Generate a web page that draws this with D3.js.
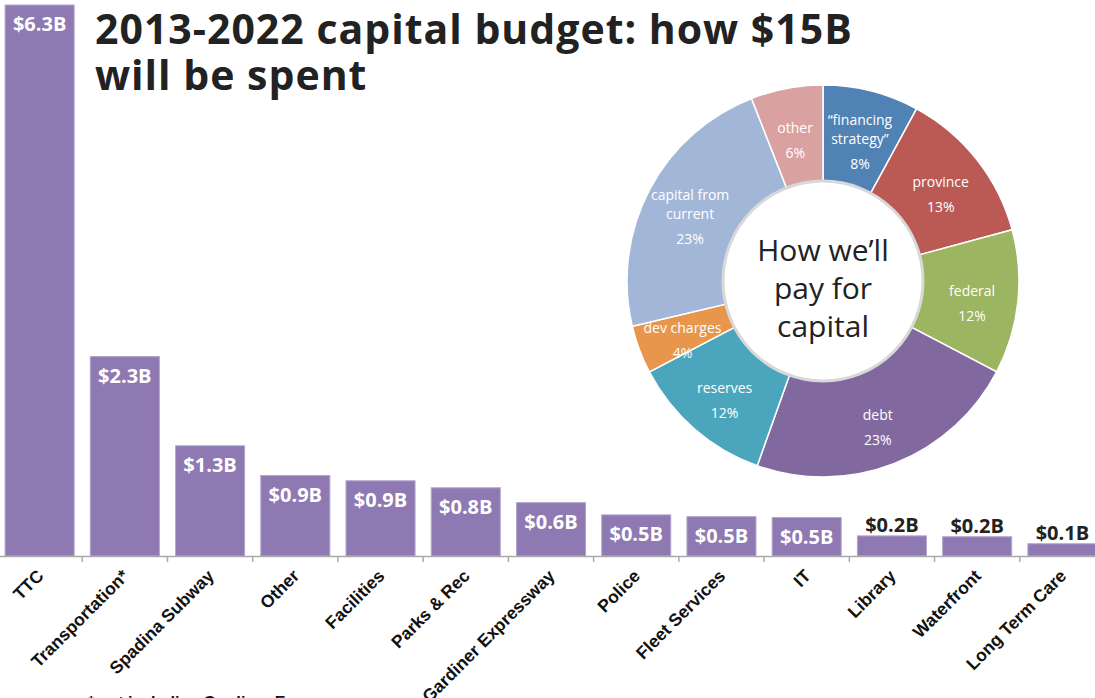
<!DOCTYPE html>
<html>
<head>
<meta charset="utf-8">
<script src="https://cdn.jsdelivr.net/npm/d3@7"></script>
<style>
  body { margin: 0; background: #fff; }
  svg { font-family: "Open Sans", "Noto Sans", sans-serif; }
</style>
</head>
<body>
<div id="chart"></div>
<script>
// Spending by program (billions)
const programs = ["TTC", "Transportation*", "Spadina Subway", "Other", "Facilities", "Parks & Rec",
  "Gardiner Expressway", "Police", "Fleet Services", "IT", "Library", "Waterfront", "Long Term Care"];
const spending = [6.3, 2.28, 1.26, 0.92, 0.86, 0.78, 0.61, 0.47, 0.45, 0.44, 0.23, 0.22, 0.14];
const spendingLabels = ["$6.3B", "$2.3B", "$1.3B", "$0.9B", "$0.9B", "$0.8B", "$0.6B",
  "$0.5B", "$0.5B", "$0.5B", "$0.2B", "$0.2B", "$0.1B"];

// Funding sources (percent), clockwise from 12 o'clock
const sources = [["“financing", "strategy”"], ["province"], ["federal"], ["debt"],
  ["reserves"], ["dev charges"], ["capital from", "current"], ["other"]];
const shares = [8, 13, 12, 23, 12, 4, 23, 6];
const sourceColors = ["#5182b5", "#bb5a54", "#9bb560", "#8169a0", "#4ba6bd", "#e8964c", "#a2b7d8", "#d9a2a0"];

const titleLines = ["2013-2022 capital budget: how $15B", "will be spent"];
const centerLines = ["How we’ll", "pay for", "capital"];

const width = 1095, height = 698;
const svg = d3.select("#chart").append("svg")
    .attr("width", width)
    .attr("height", height);

// ---- bar chart ----
const baseY = 556;
const x = d3.scaleBand()
    .domain(programs)
    .range([-3, 1105])
    .paddingInner(0.19)
    .paddingOuter(0.095);

const y = d3.scaleLinear()
    .domain([0, 6.3])
    .range([baseY, 5]);

const data = programs.map((p, i) => ({ name: p, value: spending[i], label: spendingLabels[i] }));

svg.append("g")
  .selectAll("rect")
  .data(data)
  .join("rect")
    .attr("x", d => x(d.name))
    .attr("y", d => y(d.value))
    .attr("width", x.bandwidth())
    .attr("height", d => baseY - y(d.value))
    .attr("fill", "#8f79b2")
    .attr("stroke", "#b3a4cc")
    .attr("stroke-width", 1);

// value labels: inside for tall bars, above for short ones
svg.append("g")
  .selectAll("text")
  .data(data)
  .join("text")
    .attr("x", d => x(d.name) + x.bandwidth() / 2)
    .attr("y", d => d.value > 0.3 ? y(d.value) + 26 : y(d.value) - 4)
    .attr("text-anchor", "middle")
    .attr("font-size", 20)
    .attr("font-weight", 700)
    .attr("fill", d => d.value > 0.3 ? "#fff" : "#222")
    .text(d => d.label);

// axis line with ticks between bars
const step = x.step();
const axis = svg.append("g");
axis.append("line")
    .attr("x1", 0).attr("x2", width)
    .attr("y1", baseY + 0.5).attr("y2", baseY + 0.5)
    .attr("stroke", "#aaa").attr("stroke-width", 1.5);
axis.selectAll("line.tick")
  .data(programs.slice(1))
  .join("line")
    .attr("class", "tick")
    .attr("x1", d => x(d) - (step - x.bandwidth()) / 2)
    .attr("x2", d => x(d) - (step - x.bandwidth()) / 2)
    .attr("y1", baseY).attr("y2", baseY + 6)
    .attr("stroke", "#aaa").attr("stroke-width", 1.5);

axis.selectAll("text")
  .data(programs)
  .join("text")
    .attr("transform", d => `translate(${x(d) + x.bandwidth() / 2 + 5},${baseY + 21}) rotate(-45)`)
    .attr("text-anchor", "end")
    .style("font-family", "'Liberation Sans', Arial, sans-serif")
    .attr("font-size", 17.5)
    .attr("font-weight", 700)
    .attr("fill", "#111")
    .text(d => d);

// footnote (cut off at the bottom edge)
svg.append("text")
    .attr("x", 88)
    .attr("y", 708)
    .style("font-family", "'Liberation Sans', Arial, sans-serif")
    .attr("font-size", 16)
    .attr("font-weight", 700)
    .attr("fill", "#111")
    .text("* not including Gardiner Expressway");

// title
svg.append("g")
  .selectAll("text")
  .data(titleLines)
  .join("text")
    .attr("x", 95)
    .attr("y", (d, i) => 44 + i * 46)
    .attr("font-size", 41)
    .attr("font-weight", 700)
    .attr("letter-spacing", 1)
    .attr("fill", "#222")
    .text(d => d);

// ---- donut ----
const cx = 823, cy = 281, rOuter = 196, rInner = 100;
const pie = d3.pie().sort(null).value(d => d);
const arcs = pie(shares);
const arc = d3.arc().innerRadius(rInner).outerRadius(rOuter);
const labelArc = d3.arc().innerRadius(150).outerRadius(150);

const donut = svg.append("g").attr("transform", `translate(${cx},${cy})`);

donut.selectAll("path")
  .data(arcs)
  .join("path")
    .attr("d", arc)
    .attr("fill", (d, i) => sourceColors[i])
    .attr("stroke", "#fff")
    .attr("stroke-width", 1.5);

donut.append("circle")
    .attr("r", rInner)
    .attr("fill", "#fff")
    .attr("stroke", "#d8d8d8")
    .attr("stroke-width", 3);

const labels = donut.selectAll("g.slice-label")
  .data(arcs)
  .join("g")
    .attr("class", "slice-label")
    .attr("transform", d => `translate(${labelArc.centroid(d)})`);

labels.each(function(d, i) {
  const lines = sources[i];
  const n = lines.length + 1;
  const g = d3.select(this);
  const top = -(n - 1) * 10 + 9;
  lines.forEach((l, j) => {
    g.append("text")
      .attr("y", top + j * 19)
      .attr("text-anchor", "middle")
      .attr("font-size", 14)
      .attr("fill", "#fff")
      .text(l);
  });
  g.append("text")
    .attr("y", top + (lines.length - 1) * 19 + 25)
    .attr("text-anchor", "middle")
    .attr("font-size", 14)
    .attr("fill", "#fff")
    .text(shares[i] + "%");
});

donut.append("g")
  .selectAll("text")
  .data(centerLines)
  .join("text")
    .attr("x", 0)
    .attr("y", (d, i) => -20 + i * 38)
    .attr("text-anchor", "middle")
    .attr("font-size", 30)
    .attr("fill", "#222")
    .text(d => d);
</script>
</body>
</html>
